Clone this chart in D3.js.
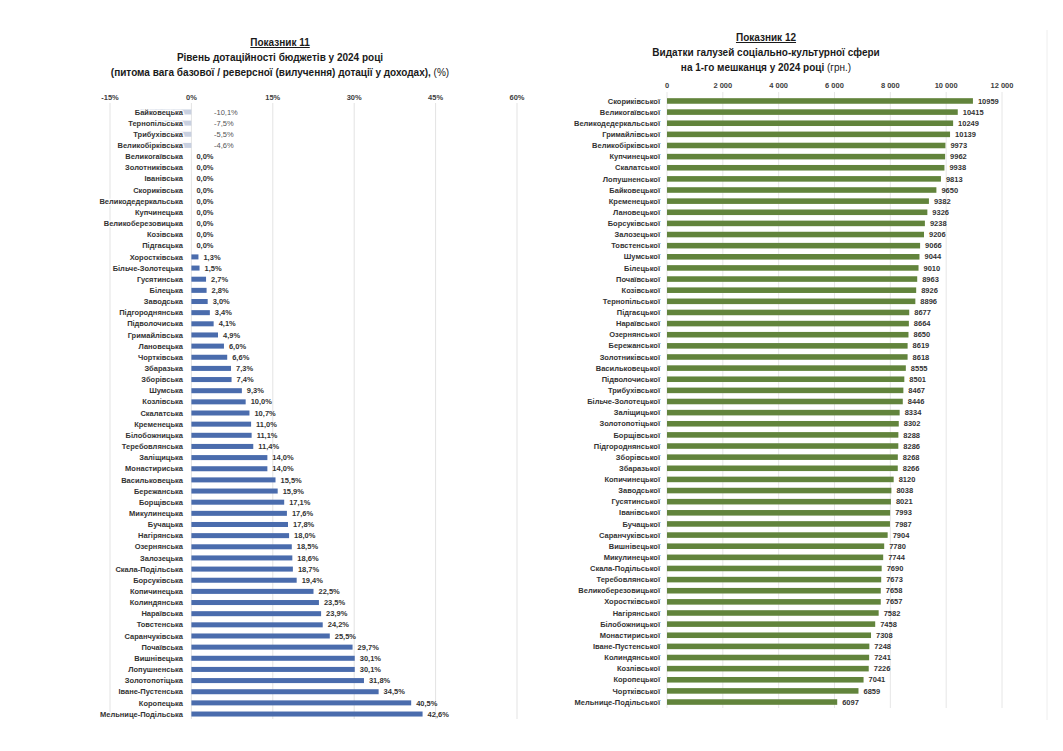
<!DOCTYPE html>
<html><head><meta charset="utf-8">
<script src="https://cdn.jsdelivr.net/npm/d3@7"></script>
<style>
body{margin:0;background:#fff;}
text{font-family:"Liberation Sans",Arial,sans-serif;}
</style></head>
<body><svg id="c" width="1063" height="751"></svg>
<script>
const leftCats=["Байковецька","Тернопільська","Трибухівська","Великобірківська","Великогаївська","Золотниківська","Іванівська","Скориківська","Великодедеркальська","Купчинецька","Великоберезовицька","Козівська","Підгаєцька","Хоростківська","Більче-Золотецька","Гусятинська","Білецька","Заводська","Підгороднянська","Підволочиська","Гримайлівська","Лановецька","Чортківська","Збаразька","Зборівська","Шумська","Козлівська","Скалатська","Кременецька","Білобожницька","Теребовлянська","Заліщицька","Монастириська","Васильковецька","Бережанська","Борщівська","Микулинецька","Бучацька","Нагірянська","Озернянська","Залозецька","Скала-Подільська","Борсуківська","Копичинецька","Колиндянська","Нараївська","Товстенська","Саранчуківська","Почаївська","Вишнівецька","Лопушненська","Золотопотіцька","Іване-Пустенська","Коропецька","Мельнице-Подільська"];
const leftVals=[-10.1,-7.5,-5.5,-4.6,0,0,0,0,0,0,0,0,0,1.3,1.5,2.7,2.8,3.0,3.4,4.1,4.9,6.0,6.6,7.3,7.4,9.3,10.0,10.7,11.0,11.1,11.4,14.0,14.0,15.5,15.9,17.1,17.6,17.8,18.0,18.5,18.6,18.7,19.4,22.5,23.5,23.9,24.2,25.5,29.7,30.1,30.1,31.8,34.5,40.5,42.6];
const leftTicks=[-15,0,15,30,45,60];

const rightCats=["Скориківської","Великогаївської","Великодедеркальської","Гримайлівської","Великобірківської","Купчинецької","Скалатської","Лопушненської","Байковецької","Кременецької","Лановецької","Борсуківської","Залозецької","Товстенської","Шумської","Білецької","Почаївської","Козівської","Тернопільської","Підгаєцької","Нараївської","Озернянської","Бережанської","Золотниківської","Васильковецької","Підволочиської","Трибухівської","Більче-Золотецької","Заліщицької","Золотопотіцької","Борщівської","Підгороднянської","Зборівської","Збаразької","Копичинецької","Заводської","Гусятинської","Іванівської","Бучацької","Саранчуківської","Вишнівецької","Микулинецької","Скала-Подільської","Теребовлянської","Великоберезовицької","Хоростківської","Нагірянської","Білобожницької","Монастириської","Іване-Пустенської","Колиндянської","Козлівської","Коропецької","Чортківської","Мельнице-Подільської"];
const rightVals=[10959,10415,10249,10139,9973,9962,9938,9813,9650,9382,9326,9238,9206,9066,9044,9010,8963,8926,8896,8677,8664,8650,8619,8618,8555,8501,8467,8446,8334,8302,8288,8286,8268,8266,8120,8038,8021,7993,7987,7904,7780,7744,7690,7673,7658,7657,7582,7458,7308,7248,7241,7226,7041,6859,6097];
const rightTicks=[0,2000,4000,6000,8000,10000,12000];

const svg=d3.select("#c");
const fmtPct=v=>v.toFixed(1).replace(".",",")+"%";
const fmtK=v=>d3.format(",")(v).replace(/,/g," ");

// ---------- LEFT ----------
{
  const g=svg.append("g");
  const x=d3.scaleLinear().domain([-15,60]).range([110,517]);
  const y=d3.scaleBand().domain(leftCats).range([106.4,719.6]).paddingInner(0.55).paddingOuter(0.275);
  // title
  const t=g.append("text").attr("x",280).attr("text-anchor","middle").attr("fill","#1a1a1a").attr("font-weight","bold").attr("font-size",10);
  t.append("tspan").attr("x",280).attr("y",46).attr("text-decoration","underline").text("Показник 11");
  t.append("tspan").attr("x",280).attr("y",61).text("Рівень дотаційності бюджетів у 2024 році");
  const l3=t.append("tspan").attr("x",280).attr("y",76);
  l3.append("tspan").text("(питома вага базової / реверсної (вилучення) дотації у доходах), ");
  l3.append("tspan").attr("font-weight","normal").text("(%)");
  // grid
  g.selectAll(".gl").data(leftTicks).join("line").attr("x1",d=>x(d)).attr("x2",d=>x(d)).attr("y1",103).attr("y2",719).attr("stroke","#e3e3e3").attr("stroke-width",1);
  g.selectAll(".tl").data(leftTicks).join("text").attr("x",d=>x(d)).attr("y",100).attr("text-anchor","middle").attr("font-size",7.5).attr("font-weight","bold").attr("fill","#404040").text(d=>d+"%");
  // bars
  g.selectAll(".b").data(leftVals).join("rect")
    .attr("x",d=>x(Math.min(0,d))).attr("width",d=>Math.abs(x(d)-x(0)))
    .attr("y",(d,i)=>y(leftCats[i])).attr("height",y.bandwidth())
    .attr("fill",d=>d<0?"#c8d0e0":"#4a6cad");
  // labels
  g.selectAll(".cl").data(leftCats).join("text").attr("x",183).attr("y",d=>y(d)+y.bandwidth()/2).attr("dy","0.35em")
    .attr("text-anchor","end").attr("font-size",7.5).attr("font-weight","bold").attr("fill","#333")
    .attr("stroke","#fff").attr("stroke-width",2.5).attr("paint-order","stroke").text(d=>d);
  g.selectAll(".vl").data(leftVals).join("text")
    .attr("x",d=>d<0?214:x(d)+5).attr("y",(d,i)=>y(leftCats[i])+y.bandwidth()/2).attr("dy","0.35em")
    .attr("font-size",7.5).attr("font-weight",d=>d<0?"normal":"bold").attr("fill",d=>d<0?"#555":"#333").text(fmtPct);
}

// ---------- RIGHT ----------
{
  const g=svg.append("g");
  const x=d3.scaleLinear().domain([0,12000]).range([667,1002]);
  const y=d3.scaleBand().domain(rightCats).range([95.4,707.6]).paddingInner(0.5).paddingOuter(0.25);
  const t=g.append("text").attr("text-anchor","middle").attr("fill","#1a1a1a").attr("font-weight","bold").attr("font-size",10);
  t.append("tspan").attr("x",766).attr("y",41).attr("text-decoration","underline").text("Показник 12");
  t.append("tspan").attr("x",766).attr("y",56).text("Видатки галузей соціально-культурної сфери");
  const l3=t.append("tspan").attr("x",766).attr("y",71);
  l3.append("tspan").text("на 1-го мешканця у 2024 році ");
  l3.append("tspan").attr("font-weight","normal").text("(грн.)");
  g.selectAll(".gl").data(rightTicks).join("line").attr("x1",d=>x(d)).attr("x2",d=>x(d)).attr("y1",92).attr("y2",708).attr("stroke","#e6e6e6");
  g.selectAll(".tl").data(rightTicks).join("text").attr("x",d=>x(d)).attr("y",88).attr("text-anchor","middle").attr("font-size",7.5).attr("font-weight","bold").attr("fill","#404040").text(fmtK);
  g.selectAll(".b").data(rightVals).join("rect")
    .attr("x",x(0)).attr("width",d=>x(d)-x(0))
    .attr("y",(d,i)=>y(rightCats[i])).attr("height",y.bandwidth())
    .attr("fill","#62843c");
  g.selectAll(".cl").data(rightCats).join("text").attr("x",660).attr("y",d=>y(d)+y.bandwidth()/2).attr("dy","0.35em")
    .attr("text-anchor","end").attr("font-size",7.5).attr("font-weight","bold").attr("fill","#333").text(d=>d);
  g.selectAll(".vl").data(rightVals).join("text")
    .attr("x",d=>x(d)+5).attr("y",(d,i)=>y(rightCats[i])+y.bandwidth()/2).attr("dy","0.35em")
    .attr("font-size",7.5).attr("font-weight","bold").attr("fill","#333").text(d=>d);
  g.append("line").attr("x1",1047).attr("x2",1047).attr("y1",30).attr("y2",720).attr("stroke","#eeeeee");
}
</script></body></html>
